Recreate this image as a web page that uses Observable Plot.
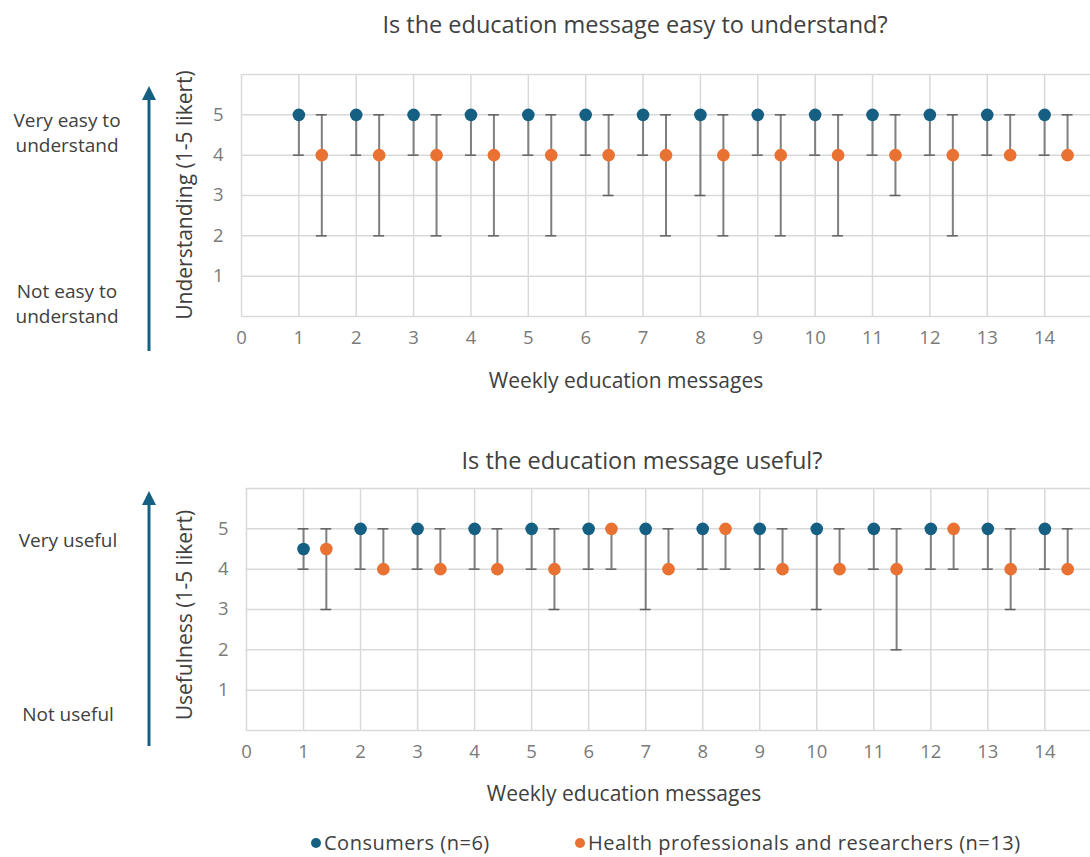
<!DOCTYPE html>
<html><head><meta charset="utf-8">
<script src="https://cdn.jsdelivr.net/npm/d3@7"></script>
<script src="https://cdn.jsdelivr.net/npm/@observablehq/plot@0.6"></script>
<style>
body{margin:0;background:#fff;font-family:"Open Sans",sans-serif;color:#404040}
#wrap{position:relative;width:1090px;height:857px;overflow:hidden;background:#fff}
.abs{position:absolute;white-space:nowrap;transform:translate(-50%,-50%);line-height:1}
.title{font-size:23.5px;color:#404040}
.axt{font-size:21px;color:#404040}
.side{font-size:19px;color:#404040;text-align:center;line-height:1.3}
.rot{transform:translate(-50%,-50%) rotate(-90deg)}
.chart{position:absolute;left:0}
.legend{position:absolute;top:843px;font-size:20px;letter-spacing:0.5px;color:#404040;transform:translateY(-50%);white-space:nowrap;line-height:1}
.legend span.dot{display:inline-block;width:10px;height:10px;border-radius:50%;margin-right:3px;vertical-align:2px}
</style></head><body><div id="wrap"></div>
<script>
// ---- data ----
const weeks = [1,2,3,4,5,6,7,8,9,10,11,12,13,14];
const xTicks = [0,1,2,3,4,5,6,7,8,9,10,11,12,13,14];
const yTicks = [1,2,3,4,5];
const series = ["Consumers (n=6)", "Health professionals and researchers (n=13)"];
const colors = ["#156082", "#E97132"];

// Understanding
const undConsMedian = [5,5,5,5,5,5,5,5,5,5,5,5,5,5];
const undConsLow    = [4,4,4,4,4,4,4,3,4,4,4,4,4,4];
const undConsHigh   = [5,5,5,5,5,5,5,5,5,5,5,5,5,5];
const undHPMedian   = [4,4,4,4,4,4,4,4,4,4,4,4,4,4];
const undHPLow      = [2,2,2,2,2,3,2,2,2,2,3,2,4,4];
const undHPHigh     = [5,5,5,5,5,5,5,5,5,5,5,5,5,5];

// Usefulness
const useConsMedian = [4.5,5,5,5,5,5,5,5,5,5,5,5,5,5];
const useConsLow    = [4,4,4,4,4,4,3,4,4,3,4,4,4,4];
const useConsHigh   = [5,5,5,5,5,5,5,5,5,5,5,5,5,5];
const useHPMedian   = [4.5,4,4,4,4,5,4,5,4,4,4,5,4,4];
const useHPLow      = [3,4,4,4,3,4,4,4,4,4,2,4,3,4];
const useHPHigh     = [5,5,5,5,5,5,5,5,5,5,5,5,5,5];

const hpOffset = 0.4;   // horizontal offset of the second series
const capHalf = 0.095;  // half width of the error-bar caps (x units)

function rows(med, lo, hi, s, off) {
  return weeks.map((w, i) => ({x: w + off, mid: med[i], lo: lo[i], hi: hi[i], s}));
}

function chart({data, marginLeft, top}) {
  const svg = Plot.plot({
    width: 1090, height: 400,
    marginTop: 74, marginBottom: 84, marginLeft, marginRight: 0,
    x: {domain: [0, 14.8], axis: null},
    y: {domain: [0, 6], axis: null},
    color: {domain: series, range: colors},
    style: {fontFamily: "'Open Sans', sans-serif", fontSize: "18.5px", color: "#7a7a7a", background: "transparent", overflow: "visible"},
    marks: [
      Plot.gridY([0,1,2,3,4,5,6], {stroke: "#d9d9d9", strokeOpacity: 1, strokeWidth: 1.5}),
      Plot.gridX(xTicks, {stroke: "#d9d9d9", strokeOpacity: 1, strokeWidth: 1.5}),
      Plot.axisX({ticks: xTicks, tickSize: 0, tickPadding: 14, label: null, fill: "#7a7a7a", tickFormat: "d"}),
      Plot.axisY({ticks: yTicks, tickSize: 0, tickPadding: 18, label: null, fill: "#7a7a7a", tickFormat: "d"}),
      Plot.ruleX(data, {x: "x", y1: "lo", y2: "hi", stroke: "#7f7f7f", strokeWidth: 2}),
      Plot.ruleY(data, {y: "lo", x1: d => d.x - capHalf, x2: d => d.x + capHalf, stroke: "#5f5f5f", strokeWidth: 1.5}),
      Plot.ruleY(data, {y: "hi", x1: d => d.x - capHalf, x2: d => d.x + capHalf, stroke: "#5f5f5f", strokeWidth: 1.5}),
      Plot.dot(data, {x: "x", y: "mid", fill: "s", r: 6.3, stroke: null})
    ]
  });
  svg.classList.add("chart");
  svg.style.top = top + "px";
  return svg;
}

const wrap = document.getElementById("wrap");
const dataU = [...rows(undConsMedian, undConsLow, undConsHigh, series[0], 0), ...rows(undHPMedian, undHPLow, undHPHigh, series[1], hpOffset)];
const dataS = [...rows(useConsMedian, useConsLow, useConsHigh, series[0], 0), ...rows(useHPMedian, useHPLow, useHPHigh, series[1], hpOffset)];
wrap.appendChild(chart({data: dataU, marginLeft: 241, top: 0}));
wrap.appendChild(chart({data: dataS, marginLeft: 246, top: 414}));

function addText(cls, txt, x, y, html) {
  const d = document.createElement("div");
  d.className = "abs " + cls;
  if (html) d.innerHTML = txt; else d.textContent = txt;
  d.style.left = x + "px"; d.style.top = y + "px";
  wrap.appendChild(d);
  return d;
}
addText("title", "Is the education message easy to understand?", 635, 25);
addText("axt", "Weekly education messages", 626, 380);
addText("axt rot", "Understanding (1-5 likert)", 184, 195);
addText("side", "Very easy to<br>understand", 67, 133, true);
addText("side", "Not easy to<br>understand", 67, 304, true);

addText("title", "Is the education message useful?", 642, 461);
addText("axt", "Weekly education messages", 624, 793);
addText("axt rot", "Usefulness (1-5 likert)", 184, 615);
addText("side", "Very useful", 68, 540);
addText("side", "Not useful", 68, 714);

// arrows
const ns = "http://www.w3.org/2000/svg";
function arrow(y1, y2) {
  const s = document.createElementNS(ns, "svg");
  s.setAttribute("width", 30); s.setAttribute("height", y1 - y2 + 4);
  s.style.position = "absolute"; s.style.left = "134px"; s.style.top = (y2 - 2) + "px";
  const l = document.createElementNS(ns, "line");
  l.setAttribute("x1", 15); l.setAttribute("x2", 15);
  l.setAttribute("y1", y1 - y2 + 2); l.setAttribute("y2", 14);
  l.setAttribute("stroke", "#156082"); l.setAttribute("stroke-width", 3);
  const p = document.createElementNS(ns, "path");
  p.setAttribute("d", "M15,2 L22,16 L8,16 Z");
  p.setAttribute("fill", "#156082");
  s.appendChild(l); s.appendChild(p);
  wrap.appendChild(s);
}
arrow(351, 86);
arrow(746, 491);

// legend
const leg = [[series[0], colors[0], 311], [series[1], colors[1], 575]];
for (const [t, c, x] of leg) {
  const d = document.createElement("div");
  d.className = "legend";
  d.style.left = x + "px";
  d.innerHTML = `<span class="dot" style="background:${c}"></span>`;
  d.appendChild(document.createTextNode(t));
  wrap.appendChild(d);
}
</script></body></html>
